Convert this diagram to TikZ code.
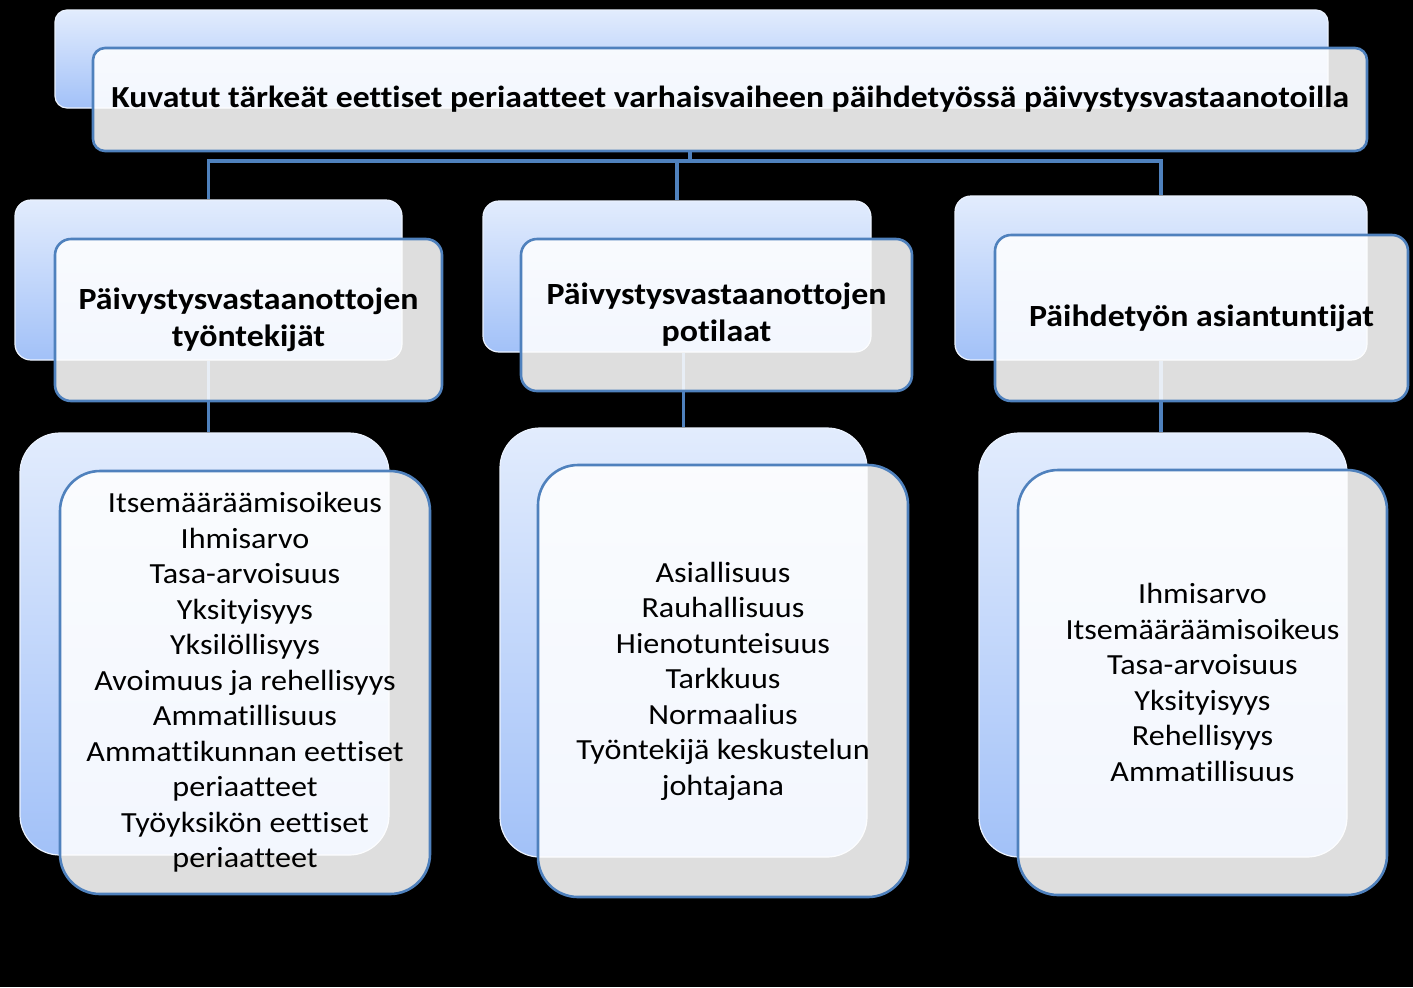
\documentclass[tikz,border=0pt]{standalone}
\usepackage{fontspec}
\setmainfont{Carlito}[FakeStretch=1.1, Ligatures=CommonOff]
\definecolor{bordblue}{HTML}{4F81BD}
\definecolor{backtop}{HTML}{E2ECFD}
\definecolor{backbot}{HTML}{A2C1F8}
\begin{document}
\begin{tikzpicture}[x=0.5pt,y=-0.5pt,
  backbox/.style={rectangle, rounded corners=#1, top color=backtop, bottom color=backbot, draw=backtop!70!white, line width=0.6pt, inner sep=0pt},
  frontbox/.style={rectangle, rounded corners=#1, fill=white, fill opacity=0.87, text opacity=1, draw=bordblue, line width=1.3pt, inner sep=0pt, align=center, text=black},
  conn/.style={draw=bordblue, line width=1.6pt},
  headtext/.style={font=\fontsize{15.3pt}{18pt}\selectfont\bfseries},
  midtext/.style={font=\fontsize{15.4pt}{18.5pt}\selectfont\bfseries},
  bodytext/.style={font=\fontsize{14.6pt}{17.75pt}\selectfont}]
\fill[black] (0,0) rectangle (1413,987);
\useasboundingbox (0,0) rectangle (1413,987);
% header
\node[backbox=6pt, minimum width=636.5pt, minimum height=49pt] (hb) at (691.5,59) {};
\node[frontbox=6pt, minimum width=637pt, minimum height=51.5pt, headtext] (hf) at (730,99.5) {Kuvatut tärkeät eettiset periaatteet varhaisvaiheen päihdetyössä päivystysvastaanotoilla};
% middle back boxes
\node[backbox=8pt, minimum width=193.5pt, minimum height=80pt] (lmb) at (208.5,280) {};
\node[backbox=8pt, minimum width=194pt, minimum height=75.5pt] (mmb) at (677,276.5) {};
\node[backbox=8pt, minimum width=206pt, minimum height=82pt] (rmb) at (1161,278) {};
% top connectors
\coordinate (bus) at (690,161);
\path[conn] (bus |- hf.south) -- (bus);
\path[conn] (bus) -| (lmb.north);
\path[conn] (bus) -| (mmb.north);
\path[conn] (bus) -| (rmb.north);
% bottom back boxes
\node[backbox=20pt, minimum width=184.5pt, minimum height=211pt] (lbb) at (204.5,644) {};
\node[backbox=20pt, minimum width=183.5pt, minimum height=214.5pt] (mbb) at (683.5,642.5) {};
\node[backbox=20pt, minimum width=184pt, minimum height=212pt] (rbb) at (1163,645) {};
% lower connectors
\path[conn] (lbb.north -| lmb.south) -- (lmb.south);
\path[conn] (mbb.north) -- (mbb.north |- mmb.south);
\path[conn] (rbb.north -| rmb.south) -- (rmb.south);
% middle front boxes
\node[frontbox=8pt, minimum width=193.5pt, minimum height=81pt, midtext] (lmf) at (248.5,320) {Päivystysvastaanottojen\\työntekijät};
\node[frontbox=8pt, minimum width=195.5pt, minimum height=76pt, midtext] (mmf) at (716.5,315) {Päivystysvastaanottojen\\potilaat};
\node[frontbox=8pt, minimum width=206.5pt, minimum height=83pt, midtext] (rmf) at (1201.5,318) {Päihdetyön asiantuntijat};
% bottom front boxes
\node[frontbox=20pt, minimum width=185pt, minimum height=211.5pt, bodytext] (lbf) at (245,682.5) {Itsemääräämisoikeus\\Ihmisarvo\\Tasa-arvoisuus\\Yksityisyys\\Yksilöllisyys\\Avoimuus ja rehellisyys\\Ammatillisuus\\Ammattikunnan eettiset\\periaatteet\\Työyksikön eettiset\\periaatteet};
\node[frontbox=20pt, minimum width=185pt, minimum height=216pt, bodytext] (mbf) at (723,681) {Asiallisuus\\Rauhallisuus\\Hienotunteisuus\\Tarkkuus\\Normaalius\\Työntekijä keskustelun\\johtajana};
\node[frontbox=20pt, minimum width=184.5pt, minimum height=212.5pt, bodytext] (rbf) at (1202.5,682.5) {Ihmisarvo\\Itsemääräämisoikeus\\Tasa-arvoisuus\\Yksityisyys\\Rehellisyys\\Ammatillisuus};
\end{tikzpicture}
\end{document}
